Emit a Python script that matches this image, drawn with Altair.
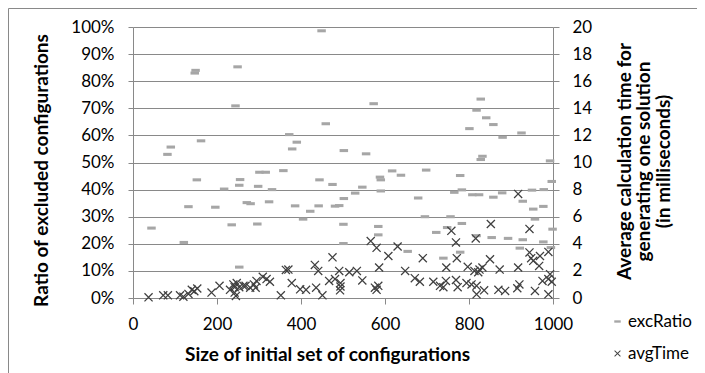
import altair as alt
import pandas as pd

# ---- data ----
exc_x = [44, 82, 90, 121, 132, 147, 149, 152, 162, 196, 217, 235, 244, 249, 253, 253, 255,
         271, 280, 296, 298, 301, 316, 324, 331, 358, 372, 379, 386, 390, 405, 422, 442,
         444, 449, 459, 475, 481, 491, 501, 501, 502, 502, 529, 546, 555, 573, 584, 584,
         588, 590, 590, 617, 638, 654, 679, 695, 698, 722, 739, 748, 756, 765, 779, 779,
         783, 783, 801, 808, 818, 818, 824, 828, 832, 828, 841, 854, 858, 858, 880, 879,
         893, 921, 925, 928, 928, 950, 953, 957, 977, 978, 977, 993, 995, 997, 999]
exc_ratio = [25.8, 53.0, 55.7, 20.5, 33.7, 83.0, 84.0, 43.6, 58.0, 33.5, 40.2, 27.0, 70.9,
             85.3, 41.6, 11.4, 43.7, 35.2, 34.8, 27.3, 41.2, 46.4, 46.4, 35.5, 40.0, 47.0,
             60.3, 55.0, 34.0, 57.5, 29.1, 32.0, 34.0, 43.6, 98.6, 64.3, 41.9, 33.9, 34.1,
             27.2, 20.1, 36.7, 54.4, 38.7, 40.9, 53.2, 71.7, 26.4, 23.3, 44.6, 43.6, 39.5,
             46.9, 45.3, 17.2, 36.9, 30.0, 47.2, 24.2, 14.7, 26.0, 30.0, 39.0, 45.2, 16.9,
             39.9, 27.5, 62.5, 38.1, 69.3, 23.0, 38.1, 51.1, 52.3, 73.4, 66.5, 22.3, 64.0,
             37.2, 59.3, 38.8, 22.0, 18.4, 60.9, 35.7, 21.5, 39.8, 32.8, 29.1, 33.8, 40.0,
             20.7, 50.6, 18.6, 43.0, 25.4]

avg_x = [37, 72, 83, 112, 120, 132, 140, 146, 153, 187, 206, 231, 239, 242, 242, 245, 247,
         253, 263, 268, 279, 288, 292, 294, 309, 318, 326, 352, 364, 370, 378, 398, 412,
         433, 436, 441, 451, 467, 475, 481, 491, 494, 494, 493, 515, 533, 546, 566, 576,
         580, 580, 584, 586, 608, 630, 648, 671, 683, 690, 715, 731, 739, 745, 746, 758,
         769, 771, 769, 773, 794, 797, 806, 813, 816, 818, 818, 822, 825, 832, 836, 850,
         852, 870, 873, 886, 915, 917, 917, 920, 944, 944, 948, 953, 957, 967, 969, 975,
         989, 989, 989, 993, 997]
avg_time = [0.05, 0.2, 0.2, 0.2, 0.1, 0.3, 0.6, 0.5, 0.7, 0.4, 0.9, 0.6, 1.0, 0.8, 0.4, 0.15,
            1.1, 0.8, 0.9, 0.9, 0.76, 1.0, 0.76, 1.26, 1.56, 1.4, 1.2, 0.2, 2.07, 2.1, 1.1,
            0.64, 0.6, 2.44, 0.76, 2.0, 0.2, 1.26, 3.0, 1.4, 2.0, 1.1, 0.85, 0.57, 1.9, 2.0,
            1.3, 4.2, 0.76, 3.7, 0.6, 0.9, 2.25, 3.1, 3.8, 2.0, 1.46, 1.2, 2.94, 1.2, 0.9,
            0.8, 1.26, 2.25, 4.96, 4.1, 2.94, 1.33, 0.8, 1.1, 2.3, 1.0, 2.0, 4.4, 0.9, 0.27,
            1.9, 2.1, 2.25, 0.57, 2.86, 5.46, 0.6, 2.1, 0.52, 0.72, 7.68, 2.25, 1.0, 5.1,
            3.36, 2.94, 2.74, 0.52, 2.37, 3.1, 1.26, 3.4, 1.4, 0.27, 1.76, 1.2]

series_names = ["excRatio", "avgTime"]
x_ticks = [0, 200, 400, 600, 800, 1000]
left_ticks = [0, 0.1, 0.2, 0.3, 0.4, 0.5, 0.6, 0.7, 0.8, 0.9, 1.0]
right_ticks = [0, 2, 4, 6, 8, 10, 12, 14, 16, 18, 20]

DASH = "M-1,-0.36L1,-0.36L1,0.36L-1,0.36Z"
CROSS = "M-1,-0.8L-0.8,-1L1,0.8L0.8,1Z M1,-0.8L-0.8,1L-1,0.8L0.8,-1Z"

df_exc = pd.DataFrame({"size": exc_x, "ratio": [v / 100 for v in exc_ratio],
                       "series": "excRatio"})
df_avg = pd.DataFrame({"size": avg_x, "time": avg_time, "series": "avgTime"})

FONT = "Lato"
GRID = "#898989"
TITLE_SIZE = 19

legend = alt.Legend(orient="none", legendX=476, legendY=286, title=None,
                    symbolSize=42, symbolStrokeWidth=0, labelFontSize=17,
                    labelFont=FONT, labelColor="#000000", rowPadding=14,
                    labelOffset=2, padding=0)
color = alt.Color("series:N", scale=alt.Scale(domain=series_names,
                                               range=["#a6a6a6", "#404040"]),
                  legend=legend)
shape = alt.Shape("series:N", scale=alt.Scale(domain=series_names, range=[DASH, CROSS]),
                  legend=legend)

xenc = alt.X("size:Q", scale=alt.Scale(domain=[0, 1000], nice=False),
             axis=alt.Axis(values=x_ticks, format="d", grid=False, tickSize=6,
                           labelPadding=12, labelFlush=False,
                           title="Size of initial set of configurations",
                           titleX=194, titleY=56, titleAlign="center",
                           titleBaseline="middle", titleAnchor="start"))

left = alt.Chart(df_exc).mark_point(filled=True, opacity=1, size=72, strokeWidth=0).encode(
    x=xenc,
    y=alt.Y("ratio:Q", scale=alt.Scale(domain=[0, 1], nice=False),
            axis=alt.Axis(format=".0%", values=left_ticks, labelOverlap=False,
                          labelFlush=False,
                          grid=True, gridColor=GRID, tickSize=5, labelPadding=14,
                          title="Ratio of excluded configurations",
                          titleX=-92, titleY=143, titleAngle=270, titleAlign="center",
                          titleBaseline="middle")),
    color=color, shape=shape,
)

right = alt.Chart(df_avg).mark_point(filled=True, opacity=1, size=81, strokeWidth=0).encode(
    x=xenc,
    y=alt.Y("time:Q", scale=alt.Scale(domain=[0, 20], nice=False),
            axis=alt.Axis(orient="right", values=right_ticks, labelOverlap=False,
                          labelFlush=False,
                          grid=False, tickSize=6, labelPadding=13,
                          title=["Average calculation time for", "generating one solution",
                                 "(in milliseconds)"],
                          titleX=71, titleY=134, titleAngle=270, titleAlign="center",
                          titleBaseline="middle", titleLineHeight=19.5)),
    color=color, shape=shape,
)

border = alt.Chart(pd.DataFrame({"a": [0]})).mark_rect(
    fill=None, stroke="#898989", strokeWidth=1).encode(
    x=alt.value(-124.5), x2=alt.value(900), y=alt.value(-18.5), y2=alt.value(500))

chart = alt.layer(border, left, right).resolve_scale(y="independent").properties(
    width=420, height=271,
    autosize=alt.AutoSizeParams(type="none"),
    padding={"left": 125, "top": 19, "right": 144, "bottom": 75},
).configure_view(stroke=None).configure_axis(
    labelFont=FONT, labelFontSize=17, labelColor="#000000",
    titleFont=FONT, titleFontSize=TITLE_SIZE, titleFontWeight="bold",
    titleColor="#000000",
    domainColor=GRID, tickColor=GRID, gridColor=GRID,
).configure_legend(labelFont=FONT)

chart.save("out.html", embed_options={"renderer": "svg", "actions": False})
